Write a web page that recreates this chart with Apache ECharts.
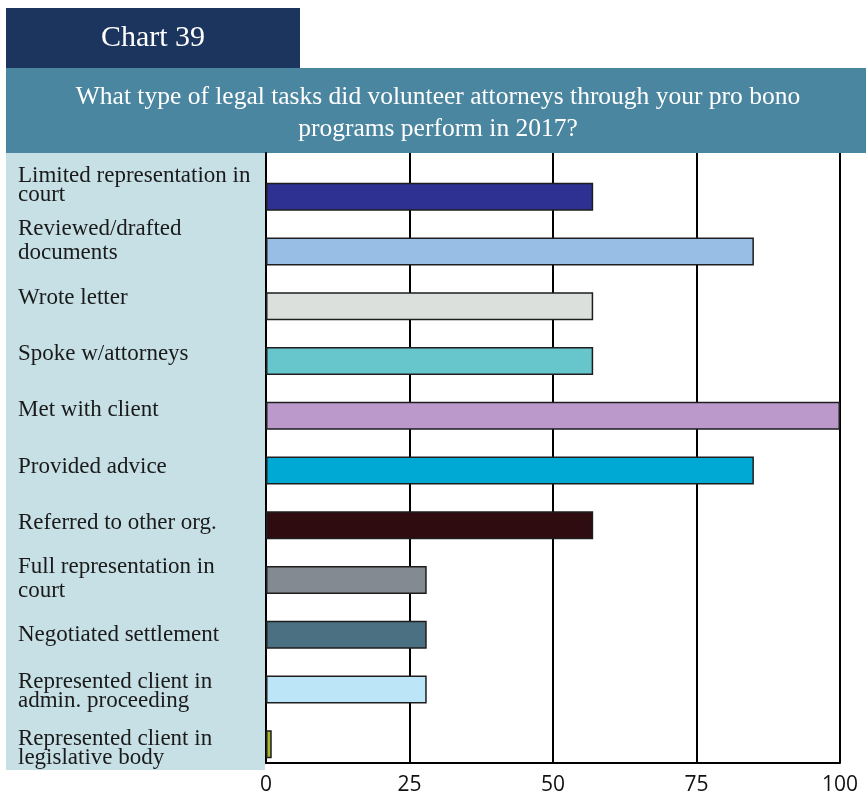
<!DOCTYPE html>
<html><head><meta charset="utf-8">
<script src="https://cdn.jsdelivr.net/npm/echarts@6/dist/echarts.min.js"></script>
<style>html,body{margin:0;padding:0;background:#fff}#c{width:866px;height:797px}</style>
</head><body><div id="c"></div>
<script>
const chartNumber = 'Chart 39';
const titleLines = ['What type of legal tasks did volunteer attorneys through your pro bono', 'programs perform in 2017?'];
const categories = [
  'Limited representation in\ncourt',
  'Reviewed/drafted\ndocuments',
  'Wrote letter',
  'Spoke w/attorneys',
  'Met with client',
  'Provided advice',
  'Referred to other org.',
  'Full representation in\ncourt',
  'Negotiated settlement',
  'Represented client in\nadmin. proceeding',
  'Represented client in\nlegislative body'
];
const values = [57, 85, 57, 57, 100, 85, 57, 28, 28, 28, 1];
const barColors = ['#2e3192', '#99bee6', '#dbe0dd', '#66c6cc', '#bb9acb', '#00a9d4', '#2e0c10', '#838a91', '#4a7082', '#bde5f8', '#a8b832'];
const axisMin = 0, axisMax = 100, axisStep = 25;

const tightLabels = [0, 9, 10];
const serif = '"Liberation Serif", "DejaVu Serif", serif';

const chart = echarts.init(document.getElementById('c'), null, {renderer: 'canvas'});
const gridLR = {left: 266, right: 26};
chart.setOption({
  animation: false,
  backgroundColor: '#ffffff',
  graphic: [
    {type: 'rect', z: -10, shape: {x: 6, y: 8, width: 294, height: 60}, style: {fill: '#1c355e'}},
    {type: 'rect', z: -10, shape: {x: 6, y: 68, width: 860, height: 85}, style: {fill: '#4b86a0'}},
    {type: 'rect', z: -10, shape: {x: 6, y: 153, width: 259, height: 617}, style: {fill: '#c6e0e6'}},
    {type: 'text', z: 10, x: 153, y: 38, style: {text: chartNumber, fill: '#ffffff', font: '30px ' + serif, textAlign: 'center', textVerticalAlign: 'middle'}},
    {type: 'text', z: 10, x: 438, y: 97, style: {text: titleLines[0], fill: '#ffffff', font: '25.5px ' + serif, textAlign: 'center', textVerticalAlign: 'middle'}},
    {type: 'text', z: 10, x: 438, y: 129, style: {text: titleLines[1], fill: '#ffffff', font: '25.5px ' + serif, textAlign: 'center', textVerticalAlign: 'middle'}}
  ],
  grid: [
    Object.assign({top: 153, height: 610}, gridLR),
    Object.assign({top: 169.5, height: 602}, gridLR),
    Object.assign({top: 156.9, height: 619.3}, gridLR)
  ],
  xAxis: [
    {gridIndex: 0, type: 'value', min: axisMin, max: axisMax, interval: axisStep,
      axisLine: {show: true, lineStyle: {color: '#000', width: 2}},
      axisTick: {show: false},
      splitLine: {show: true, lineStyle: {color: '#000', width: 2}},
      axisLabel: {color: '#111', fontSize: 21, fontFamily: '"Open Sans", "Liberation Sans", sans-serif', margin: 12}},
    {gridIndex: 1, type: 'value', min: axisMin, max: axisMax, show: false},
    {gridIndex: 2, type: 'value', min: axisMin, max: axisMax, show: false}
  ],
  yAxis: [
    {gridIndex: 0, type: 'category', inverse: true, data: categories,
      axisLine: {show: true, onZero: false, lineStyle: {color: '#000', width: 2}},
      axisTick: {show: false}, axisLabel: {show: false}, splitLine: {show: false}},
    {gridIndex: 1, type: 'category', inverse: true, data: categories, show: false},
    {gridIndex: 2, type: 'category', inverse: true, data: categories,
      axisLine: {show: false}, axisTick: {show: false}, splitLine: {show: false},
      axisLabel: {show: true, align: 'left', margin: 248, color: '#1a1a1a',
        fontFamily: serif, fontSize: 23,
        formatter: function (v, i) {
          const key = tightLabels.indexOf(i) >= 0 ? 't' : 'l';
          return v.split('\n').map(s => '{' + key + '|' + s + '}').join('\n');
        },
        rich: {
          t: {fontFamily: serif, fontSize: 23, lineHeight: 19, color: '#1a1a1a'},
          l: {fontFamily: serif, fontSize: 23, lineHeight: 24, color: '#1a1a1a'}
        }}}
  ],
  series: [{
    type: 'bar', xAxisIndex: 1, yAxisIndex: 1, data: values, barWidth: 28, z: 5,
    itemStyle: {color: p => barColors[p.dataIndex], borderColor: '#1e1e1e', borderWidth: 1.5}
  }]
});
</script></body></html>
